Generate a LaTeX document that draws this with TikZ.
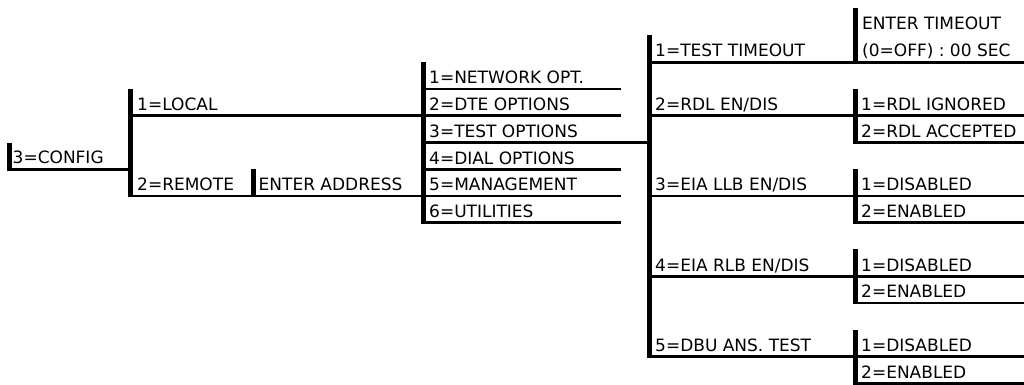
\documentclass[tikz,border=0pt]{standalone}
\usepackage{fontspec}
\setmainfont{DejaVu Sans}
\begin{document}
\begin{tikzpicture}[x=1pt,y=-1pt,
  lbl/.style={anchor=base west,inner sep=0pt,font=\fontsize{17}{20}\selectfont},
  bar/.style={line width=5pt,line cap=butt},
  rule/.style={line width=2.7pt,line cap=butt}]
\useasboundingbox (0,0) rectangle (1024,385);
% column A
\coordinate (a1) at (9.5,142.5);
\coordinate (a2) at (9.5,170.5);
\draw[bar] (a1) -- (a2);
\node[lbl] (config) at (12.5,163) {3=CONFIG};
% column B
\coordinate (b1) at (130.5,89);
\coordinate (b2) at (130.5,197.3);
\draw[bar] (b1) -- (b2);
\draw[rule] (a2 |- 0,169.2) -- (b1 |- 0,169.2);
\node[lbl] (local) at (137,110.5) {1=LOCAL};
\node[lbl] (remote) at (137,190.5) {2=REMOTE};
\coordinate (e1) at (253,169.2);
\coordinate (e2) at (253,197.3);
\draw[bar] (e1) -- (e2);
\node[lbl] (addr) at (258.5,190.5) {ENTER ADDRESS};
% column C
\coordinate (c1) at (423.5,62.2);
\coordinate (c2) at (423.5,224);
\draw[bar] (c1) -- (c2);
\draw[rule] (b1 |- 0,115.7) -- (c1 |- 0,115.7);
\draw[rule] (b1 |- 0,195.95) -- (c1 |- 0,195.95);
\coordinate (cend) at (620.5,0);
\node[lbl] (net) at (429,83.5) {1=NETWORK OPT.};
\node[lbl] (dte) at (429,110.5) {2=DTE OPTIONS};
\node[lbl] (tst) at (429,137) {3=TEST OPTIONS};
\node[lbl] (dial) at (429,164) {4=DIAL OPTIONS};
\node[lbl] (mgmt) at (429,190.5) {5=MANAGEMENT};
\node[lbl] (util) at (429,217.5) {6=UTILITIES};
\foreach \yy in {88.95,115.7,169.2,195.95,222.7}
  \draw[rule] (c1 |- 0,\yy) -- (cend |- 0,\yy);
% column D
\coordinate (d1) at (649.5,35.4);
\coordinate (d2) at (649.5,358);
\draw[bar] (d1) -- (d2);
\draw[rule] (c1 |- 0,142.45) -- (d1 |- 0,142.45);
\coordinate (rend) at (1024,0);
\node[lbl] (tto) at (655,57) {1=TEST TIMEOUT};
\node[lbl] (rdl) at (655,110.5) {2=RDL EN/DIS};
\node[lbl] (llb) at (655,190.5) {3=EIA LLB EN/DIS};
\node[lbl] (rlb) at (655,271) {4=EIA RLB EN/DIS};
\node[lbl] (dbu) at (655,351) {5=DBU ANS. TEST};
\foreach \yy in {62.2,115.7,195.95,276.2,356.45}
  \draw[rule] (d1 |- 0,\yy) -- (rend |- 0,\yy);
% column E
\foreach \t/\b/\n in {8.3/63.5/f1,89/144/f2,169.2/224/f3,249.4/304.3/f4,329.7/385/f5}{
  \coordinate (\n t) at (855.5,\t);
  \coordinate (\n b) at (855.5,\b);
  \draw[bar] (\n t) -- (\n b);
}
\node[lbl] (eto) at (862,30) {ENTER TIMEOUT};
\node[lbl] (off) at (862,57) {(0=OFF) : 00 SEC};
\node[lbl] (ign) at (861,110.5) {1=RDL IGNORED};
\node[lbl] (acc) at (861,137) {2=RDL ACCEPTED};
\node[lbl] (dis1) at (861,190.5) {1=DISABLED};
\node[lbl] (ena1) at (861,217.5) {2=ENABLED};
\node[lbl] (dis2) at (861,271) {1=DISABLED};
\node[lbl] (ena2) at (861,297.5) {2=ENABLED};
\node[lbl] (dis3) at (861,351) {1=DISABLED};
\node[lbl] (ena3) at (861,378) {2=ENABLED};
\foreach \yy/\n in {142.45/f2,222.7/f3,302.95/f4,383.2/f5}
  \draw[rule] (\n t |- 0,\yy) -- (rend |- 0,\yy);
\end{tikzpicture}
\end{document}
